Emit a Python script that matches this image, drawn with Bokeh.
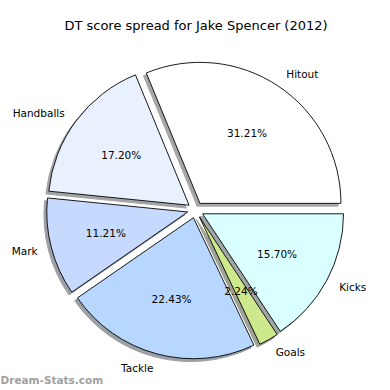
import math
from bokeh.plotting import figure
from bokeh.models import Range1d, ColumnDataSource
from bokeh.core.properties import value
from bokeh.embed import file_html
from bokeh.resources import INLINE

# ---- data ----
title_text = "DT score spread for Jake Spencer (2012)"
categories = ["Hitout", "Handballs", "Mark", "Tackle", "Goals", "Kicks"]
points = [167, 92, 60, 120, 12, 84]
colors = ["#ffffff", "#eaf1fe", "#c6d9fe", "#b7d7ff", "#cde98c", "#d9ffff"]
watermark = "Dream-Stats.com"

# ---- layout constants (pixel-like data units, y up) ----
W = H = 390
CX, CY = 195.0, H - 209.5
R = 141.0
EXPL = 8.0
SHADOW = 0.02 * R
LABEL_D = 1.1
PCT_D = 0.6


def shade(hexc):
    c = hexc.lstrip("#")
    rgb = [int(c[i:i + 2], 16) / 255 for i in (0, 2, 4)]
    s = [0.15 * v + 0.5 for v in rgb]
    return "#" + "".join("%02x" % int(round(v * 255)) for v in s)


total = float(sum(points))
xs, ys, a0s, a1s, sx, sy, scol = [], [], [], [], [], [], []
lx, ly, lalign, px, py, ptxt = [], [], [], [], [], []
theta = 0.0
for cat, v, col in zip(categories, points, colors):
    frac = v / total
    a0 = theta
    a1 = theta + 2 * math.pi * frac
    tm = (a0 + a1) / 2
    x = CX + EXPL * math.cos(tm)
    y = CY + EXPL * math.sin(tm)
    xs.append(x); ys.append(y); a0s.append(a0); a1s.append(a1)
    sx.append(x - SHADOW); sy.append(y - SHADOW); scol.append(shade(col))
    tx = x + LABEL_D * R * math.cos(tm)
    ty = y + LABEL_D * R * math.sin(tm)
    lx.append(tx); ly.append(ty)
    lalign.append("left" if tx > CX else "right")
    px.append(x + PCT_D * R * math.cos(tm))
    py.append(y + PCT_D * R * math.sin(tm))
    ptxt.append("%.2f%%" % (frac * 100))
    theta = a1

p = figure(width=W, height=H, x_range=Range1d(0, W), y_range=Range1d(0, H),
           output_backend="svg", toolbar_location=None, min_border=0,
           x_axis_type=None, y_axis_type=None)
p.grid.visible = False
p.outline_line_color = None
p.background_fill_color = "white"
p.border_fill_color = "white"

shadow_src = ColumnDataSource(dict(x=sx, y=sy, a0=a0s, a1=a1s, c=scol))
p.wedge(x="x", y="y", radius=R, start_angle="a0", end_angle="a1",
        fill_color="c", line_color="c", line_width=1, source=shadow_src)

wedge_src = ColumnDataSource(dict(x=xs, y=ys, a0=a0s, a1=a1s, c=colors))
p.wedge(x="x", y="y", radius=R, start_angle="a0", end_angle="a1",
        fill_color="c", line_color="black", line_width=0.9, source=wedge_src)

lab_src = ColumnDataSource(dict(x=lx, y=ly, t=categories, a=lalign))
p.text(x="x", y="y", text="t", text_align="a", text_baseline="middle",
       text_font=value("DejaVu Sans"), text_font_size="10.5px",
       text_color="black", source=lab_src)

pct_src = ColumnDataSource(dict(x=px, y=py, t=ptxt))
p.text(x="x", y="y", text="t", text_align="center", text_baseline="middle",
       text_font=value("DejaVu Sans"), text_font_size="10.5px",
       text_color="black", source=pct_src)

p.text(x=[W / 2 + 0.5], y=[H - 25], text=[title_text], text_align="center",
       text_baseline="middle", text_font=value("DejaVu Sans"),
       text_font_size="13px", text_color="black")

p.text(x=[0], y=[H - 379], text=[watermark], text_align="left",
       text_baseline="middle", text_font=value("DejaVu Sans"),
       text_font_size="10.5px", text_font_style="bold", text_color="#a0a0a0")

open("out.html", "w").write(file_html(p, INLINE))
